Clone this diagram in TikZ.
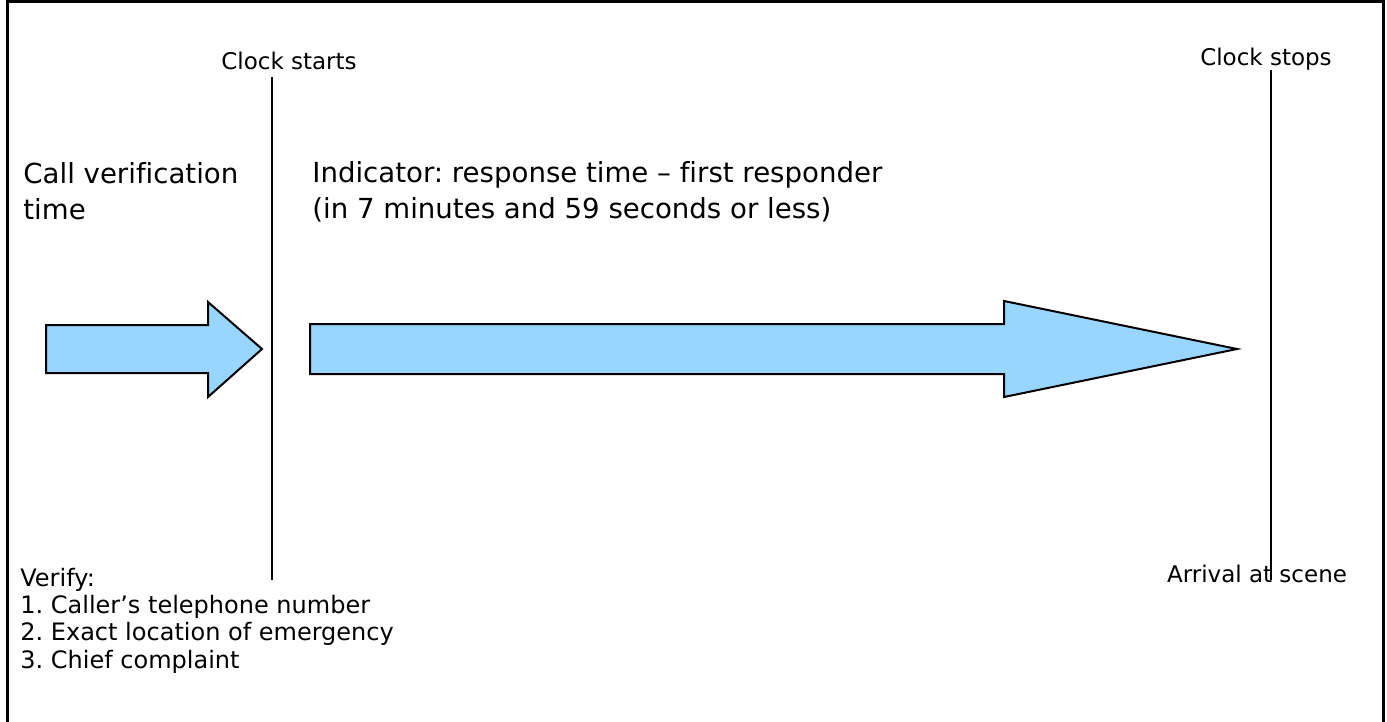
\documentclass[tikz,border=0pt]{standalone}
\usepackage{fontspec}
\setmainfont[Ligatures=NoCommon]{DejaVu Sans}
\frenchspacing
\begin{document}
\begin{tikzpicture}[x=0.5pt,y=-0.5pt]

% --- Styles ---
\tikzset{
    frameLine/.style={
        draw=black,
        line width=1.5pt
    },
    clockLine/.style={
        draw=black,
        line width=0.8pt
    },
    timeArrow/.style={
        fill=blue!40!cyan!40,
        draw=black,
        line width=1pt,
        line join=miter
    },
    clockLabel/.style={
        font=\fontsize{11.5pt}{13.5pt}\selectfont,
        inner sep=0pt
    },
    phaseLabel/.style={
        font=\fontsize{13.8pt}{18pt}\selectfont,
        align=left,
        inner sep=0pt
    },
    listLabel/.style={
        font=\fontsize{12pt}{13.6pt}\selectfont,
        align=left,
        inner sep=0pt
    }
}

\useasboundingbox (0,0) rectangle (1387,722);

% =========================================================
% Frame (open at the bottom)
% =========================================================
\draw[frameLine] (7,722) -- (7,2) -- (1383,2) -- (1383,722);

% =========================================================
% Clock markers
% =========================================================
\node[clockLabel, anchor=base] (clockStart) at (289,70) {Clock starts};
\node[clockLabel, anchor=base] (clockStop) at (1266,66) {Clock stops};
\node[clockLabel, anchor=base] (arrival) at (1257,582) {Arrival at scene};

\coordinate (startTop) at (272,77);
\coordinate (startBottom) at (272,580);
\coordinate (stopTop) at (1271,70);
\coordinate (stopBottom) at (1271,580);

\draw[clockLine] (startTop) -- (startBottom);
\draw[clockLine] (stopTop) -- (stopBottom);

% =========================================================
% Phase headings (base = baseline of the last line)
% =========================================================
\node[phaseLabel, anchor=base west] (verifyTime) at (23,220)
    {Call verification\\time};
\node[phaseLabel, anchor=base west] (indicator) at (312,219)
    {Indicator: response time -- first responder\\(in 7 minutes and 59 seconds or less)};

% =========================================================
% Block arrows
% =========================================================
% short arrow: verification
\draw[timeArrow] (46,325) -- (208,325) -- (208,302) -- (262,349)
    -- (208,397) -- (208,373) -- (46,373) -- cycle;

% long arrow: response time
\draw[timeArrow] (310,324) -- (1004,324) -- (1004,301) -- (1237,349)
    -- (1004,397) -- (1004,374) -- (310,374) -- cycle;

% =========================================================
% Verification checklist
% =========================================================
\node[listLabel, anchor=base west] (checklist) at (20,668)
    {Verify:\\
     1. Caller’s telephone number\\
     2. Exact location of emergency\\
     3. Chief complaint};

\end{tikzpicture}
\end{document}
